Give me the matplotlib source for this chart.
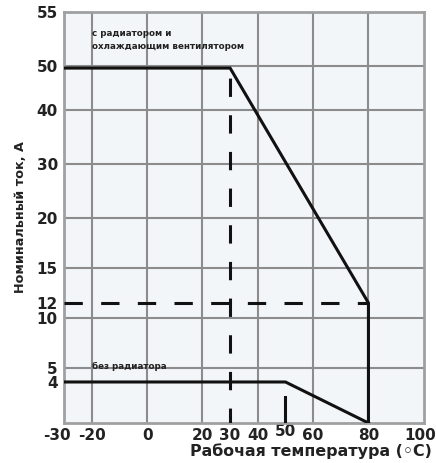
import numpy as np
import matplotlib
matplotlib.use('Agg')
import matplotlib.pyplot as plt
import matplotlib.transforms as mtransforms

plt.rcParams['font.family'] = ['DejaVu Sans']

# derating curves
fan_t = [-30, 30, 80, 80]
fan_i = [49.5, 49.5, 12, 0]
bare_t = [-30, 50, 80]
bare_i = [4, 4, 0]

x_ticks = [-30, -20, 0, 20, 30, 40, 50, 60, 80, 100]
y_ticks = [4, 5, 10, 12, 15, 20, 30, 40, 50, 55]
x_grid = [-20, 0, 20, 40, 60, 80]
y_grid = [5, 10, 15, 20, 30, 40, 50]

# non-uniform current axis (knots -> relative height)
y_knots = [0, 4, 5, 10, 12, 15, 20, 30, 40, 50, 55]
y_height = [0, 41, 55, 105, 120, 155, 205, 259, 313, 357, 411]


def fwd(v):
    return np.interp(v, y_knots, y_height)


def inv(h):
    return np.interp(h, y_height, y_knots)


fig = plt.figure(figsize=(4.36, 4.63), dpi=100)
ax = fig.add_axes([0.147, 0.0864, 0.825, 0.888])
ax.set_facecolor('#f3f6f8')
ax.set_yscale('function', functions=(fwd, inv))
ax.set_xlim(-30, 100)
ax.set_ylim(0, 55)

gc = '#8c8c8c'
for t in x_grid:
    ax.axvline(t, color=gc, lw=1.5, zorder=1)
for v in y_grid:
    ax.axhline(v, color=gc, lw=1.5, zorder=1)
for s in ax.spines.values():
    s.set_color('#a0a0a0')
    s.set_linewidth(2)

ax.plot([30, 30], [49.5, 0], color='#111111', lw=2.2, linestyle=(8.7, (6, 6)), zorder=3)
ax.plot([-30, 80], [12, 12], color='#111111', lw=2.2, linestyle=(0, (6, 6)), zorder=3)
ax.plot([50, 50], [0, 4], color='#111111', lw=2.2, linestyle=(0, (9, 8)), zorder=3)

ax.plot(fan_t, fan_i, color='#111111', lw=2.2, zorder=4, solid_joinstyle='miter')
ax.plot(bare_t, bare_i, color='#111111', lw=2.2, zorder=4, solid_joinstyle='miter')

ax.text(-20, 52.4, 'с радиатором и\nохлаждающим вентилятором', fontsize=6.3,
        fontweight='bold', va='center', ha='left', linespacing=1.5,
        color='#222222')
ax.text(-20, 5.2, 'без радиатора', fontsize=6.3, fontweight='bold',
        va='center', ha='left', color='#222222')

ax.set_xticks(x_ticks)
ax.set_xticklabels([str(t) for t in x_ticks])
ax.set_yticks(y_ticks)
ax.set_yticklabels([str(v) for v in y_ticks])
ax.tick_params(length=0, labelsize=11)
ax.tick_params(axis='x', pad=3.5)
ax.tick_params(axis='y', pad=4.5)
for lab in ax.get_xticklabels() + ax.get_yticklabels():
    lab.set_fontweight('bold')
    lab.set_color('#222222')


def shift(lab, dx, dy):
    lab.set_transform(lab.get_transform() + mtransforms.ScaledTranslation(dx / 100, dy / 100, fig.dpi_scale_trans))


for lab in ax.get_xticklabels():
    if lab.get_text() == '50':
        shift(lab, 0, 4)
    if lab.get_text() == '-30':
        shift(lab, -7, 0)
    if lab.get_text() == '100':
        shift(lab, -4, 0)

fig.text(432 / 436, 1 - 451 / 463, 'Рабочая температура (◦C)', fontsize=11.4,
         fontweight='bold', ha='right', va='center', color='#222222')
ax.set_ylabel('Номинальный ток, А', fontsize=9.2, fontweight='bold',
              labelpad=7, color='#222222')

fig.savefig('out.png', dpi=100)
